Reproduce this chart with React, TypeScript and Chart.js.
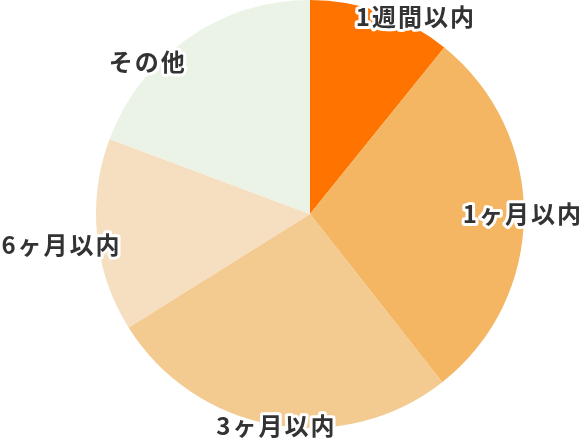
import { useEffect, useRef } from "react";
import { Chart, registerables, ChartConfiguration, Plugin } from "chart.js";

Chart.register(...registerables);

// answer share per period (percent)
const categories = ["1週間以内", "1ヶ月以内", "3ヶ月以内", "6ヶ月以内", "その他"];
const shares = [10.8, 28.6, 26.7, 14.6, 19.3];
const sliceColors = ["#FF7400", "#F4B662", "#F3CA90", "#F6DFC0", "#EBF3E7"];

// where each label sits: angle (deg, clockwise from 12 o'clock) and radius as a fraction of the pie radius
const labelAngles = [28.2, 90, 189, 262.9, 313.2];
const labelRadii = [1.047, 0.995, 1.003, 1.17, 1.04];

const outlinedLabels: Plugin<"pie"> = {
  id: "outlinedLabels",
  afterDatasetsDraw(chart) {
    const { ctx } = chart;
    const meta = chart.getDatasetMeta(0);
    meta.data.forEach((el: any, i) => {
      const a = ((labelAngles[i] - 90) * Math.PI) / 180;
      const r = el.outerRadius * labelRadii[i];
      const x = el.x + Math.cos(a) * r;
      const y = el.y + Math.sin(a) * r;
      ctx.save();
      ctx.font = 'bold 24px "Noto Sans CJK JP", sans-serif';
      (ctx as any).letterSpacing = "2px";
      ctx.textAlign = "center";
      ctx.textBaseline = "middle";
      ctx.lineJoin = "round";
      ctx.lineWidth = 6;
      ctx.strokeStyle = "#ffffff";
      ctx.strokeText(categories[i], x, y);
      ctx.fillStyle = "#333333";
      ctx.fillText(categories[i], x, y);
      ctx.restore();
    });
  },
};

export default function App() {
  const canvasRef = useRef<HTMLCanvasElement>(null);
  const chartInstance = useRef<Chart | null>(null);

  useEffect(() => {
    if (!canvasRef.current) return;
    if (chartInstance.current) chartInstance.current.destroy();

    const config: ChartConfiguration<"pie"> = {
      type: "pie",
      data: {
        labels: categories,
        datasets: [
          {
            data: shares,
            backgroundColor: sliceColors,
            borderWidth: 0,
          },
        ],
      },
      options: {
        responsive: false,
        animation: false,
        devicePixelRatio: 1,
        layout: { padding: { top: 0, bottom: 15, left: 96, right: 62 } },
        plugins: {
          legend: { display: false },
          tooltip: { enabled: false },
        },
      },
      plugins: [outlinedLabels],
    };

    chartInstance.current = new Chart(canvasRef.current, config);

    return () => {
      chartInstance.current?.destroy();
      chartInstance.current = null;
    };
  }, []);

  return (
    <div style={{ position: "fixed", left: 0, top: 0, width: 586, height: 443, background: "#fff" }}>
      <canvas ref={canvasRef} width={586} height={443} />
    </div>
  );
}
